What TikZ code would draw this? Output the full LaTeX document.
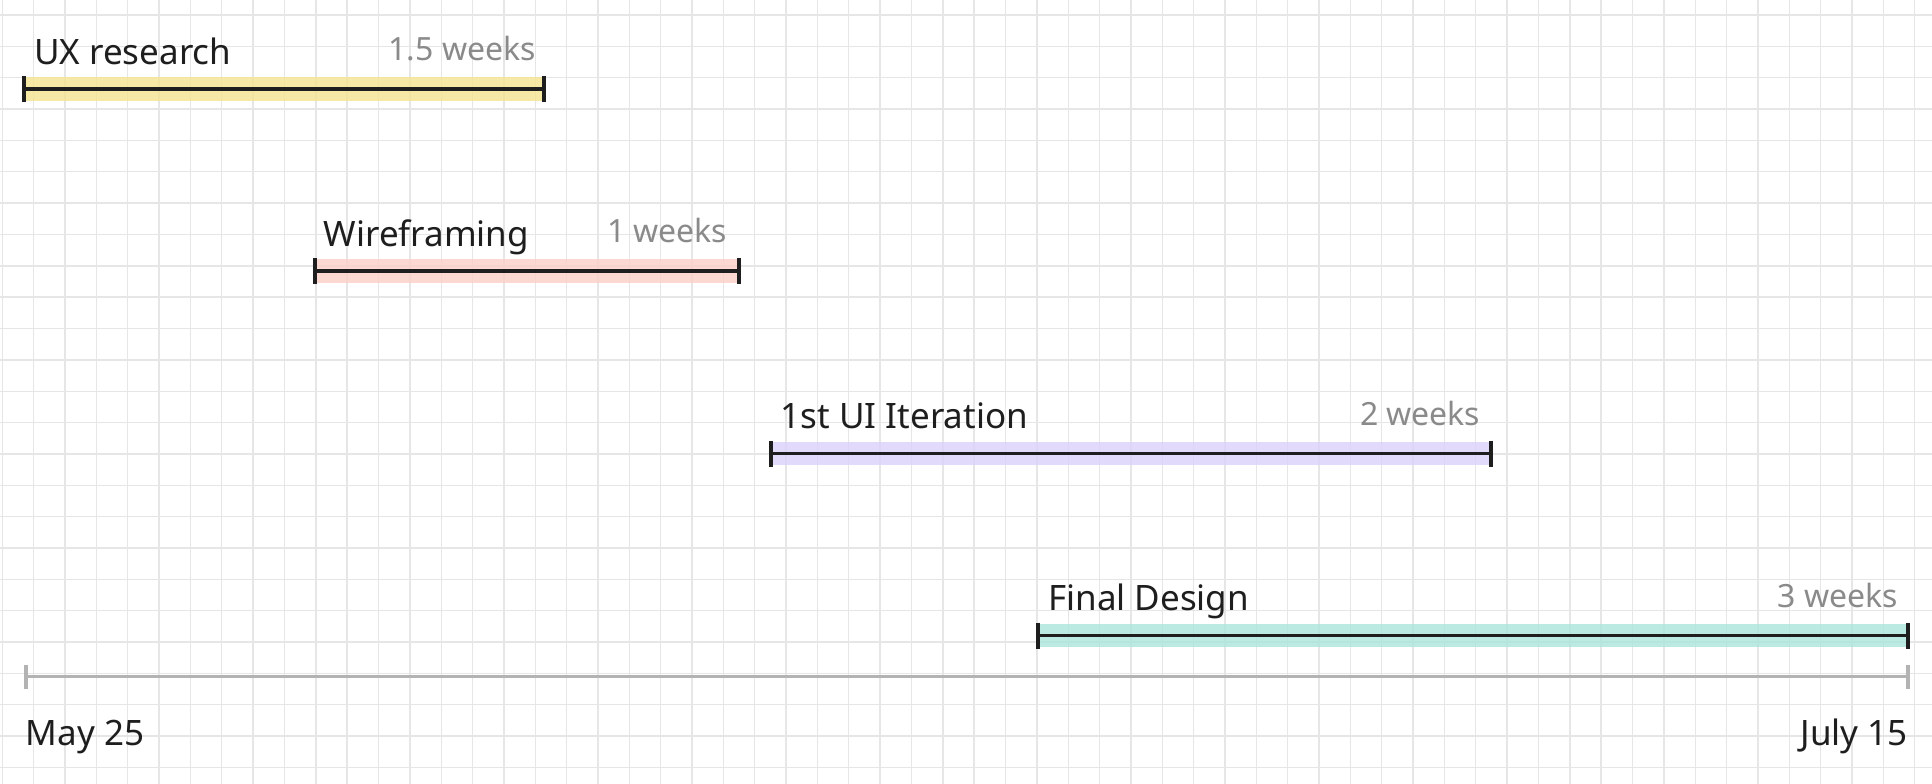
\documentclass[tikz,border=0pt]{standalone}
\usepackage{fontspec}
\setmainfont{Noto Sans}
\usepackage{xcolor}
\usepackage{tikz}
\usetikzlibrary{positioning, arrows.meta}
\definecolor{gridgray}{HTML}{E6E6E6}
\definecolor{axisgray}{HTML}{B3B3B3}
\definecolor{inkblack}{HTML}{1E1E1E}
\definecolor{weekgray}{HTML}{8A8A8A}
\definecolor{uxyellow}{HTML}{F4E490}
\definecolor{wirepink}{HTML}{FCCFC9}
\definecolor{uilavender}{HTML}{DBD1FA}
\definecolor{finalteal}{HTML}{ABE5DC}

\tikzset{
  gridline/.style={draw=gridgray, line width=1.4pt},
  band/.style={line width=23.5pt, opacity=0.8},
  span/.style={draw=inkblack, line width=3.6pt},
  spantick/.style={draw=inkblack, line width=4pt},
  axisline/.style={draw=axisgray, line width=3.5pt},
  axistick/.style={draw=axisgray, line width=4pt},
  task/.style={inner sep=0pt, text=inkblack, font=\fontsize{35}{40}\selectfont},
  weeks/.style={inner sep=0pt, text=weekgray, font=\fontsize{32}{38}\selectfont},
  datelabel/.style={inner sep=0pt, text=inkblack, font=\fontsize{35}{40}\selectfont}
}

\begin{document}
\begin{tikzpicture}[x=1pt, y=-1pt]
    \fill[white] (0,0) rectangle (1932,784);
    \useasboundingbox (0,0) rectangle (1932,784);

    % paper grid
    \foreach \i in {0,...,61}
      \draw[gridline] ({2.3+31.35*\i},0) -- ({2.3+31.35*\i},784);
    \foreach \j in {0,...,24}
      \draw[gridline] (0,{15+31.35*\j}) -- (1932,{15+31.35*\j});

    % task spans
    \coordinate (ux-start) at (24,89);
    \coordinate (ux-end) at (544,89);
    \coordinate (wire-start) at (314.5,271);
    \coordinate (wire-end) at (738.5,271);
    \coordinate (ui-start) at (770.5,453.5);
    \coordinate (ui-end) at (1490.5,453.5);
    \coordinate (final-start) at (1038,635.5);
    \coordinate (final-end) at (1908,635.5);

    \foreach \t/\c in {ux/uxyellow, wire/wirepink, ui/uilavender, final/finalteal}{
      \draw[band, \c] (\t-start) -- (\t-end);
      \draw[span] (\t-start) -- (\t-end);
      \draw[spantick] ([yshift=13pt]\t-start) -- ([yshift=-13pt]\t-start);
      \draw[spantick] ([yshift=13pt]\t-end) -- ([yshift=-13pt]\t-end);
    }

    \node[task, above right=25pt and 10pt of ux-start, anchor=base west] (ux-label) {UX research};
    \node[weeks, above left=28.5pt and 8pt of ux-end, anchor=base east] (ux-weeks) {1.5 weeks};
    \node[task, above right=25pt and 9pt of wire-start, anchor=base west] (wire-label) {Wireframing};
    \node[weeks, above left=28.5pt and 11pt of wire-end, anchor=base east] (wire-weeks) {1 weeks};
    \node[task, above right=25pt and 10pt of ui-start, anchor=base west] (ui-label) {1st UI Iteration};
    \node[weeks, above left=28.5pt and 10pt of ui-end, anchor=base east] (ui-weeks) {2 weeks};
    \node[task, above right=25pt and 10pt of final-start, anchor=base west] (final-label) {Final Design};
    \node[weeks, above left=28.5pt and 10pt of final-end, anchor=base east] (final-weeks) {3 weeks};

    % time axis
    \coordinate (axis-start) at (25.5,676.5);
    \coordinate (axis-end) at (1908,676.5);
    \draw[axisline] (axis-start) -- (axis-end);
    \draw[axistick] ([yshift=12pt]axis-start) -- ([yshift=-12pt]axis-start);
    \draw[axistick] ([yshift=12pt]axis-end) -- ([yshift=-12pt]axis-end);
    \node[datelabel, below right=69pt and 0pt of axis-start, anchor=base west] (may-date) {May 25};
    \node[datelabel, below left=69pt and 0pt of axis-end, anchor=base east] (july-date) {July 15};
  \end{tikzpicture}
\end{document}
